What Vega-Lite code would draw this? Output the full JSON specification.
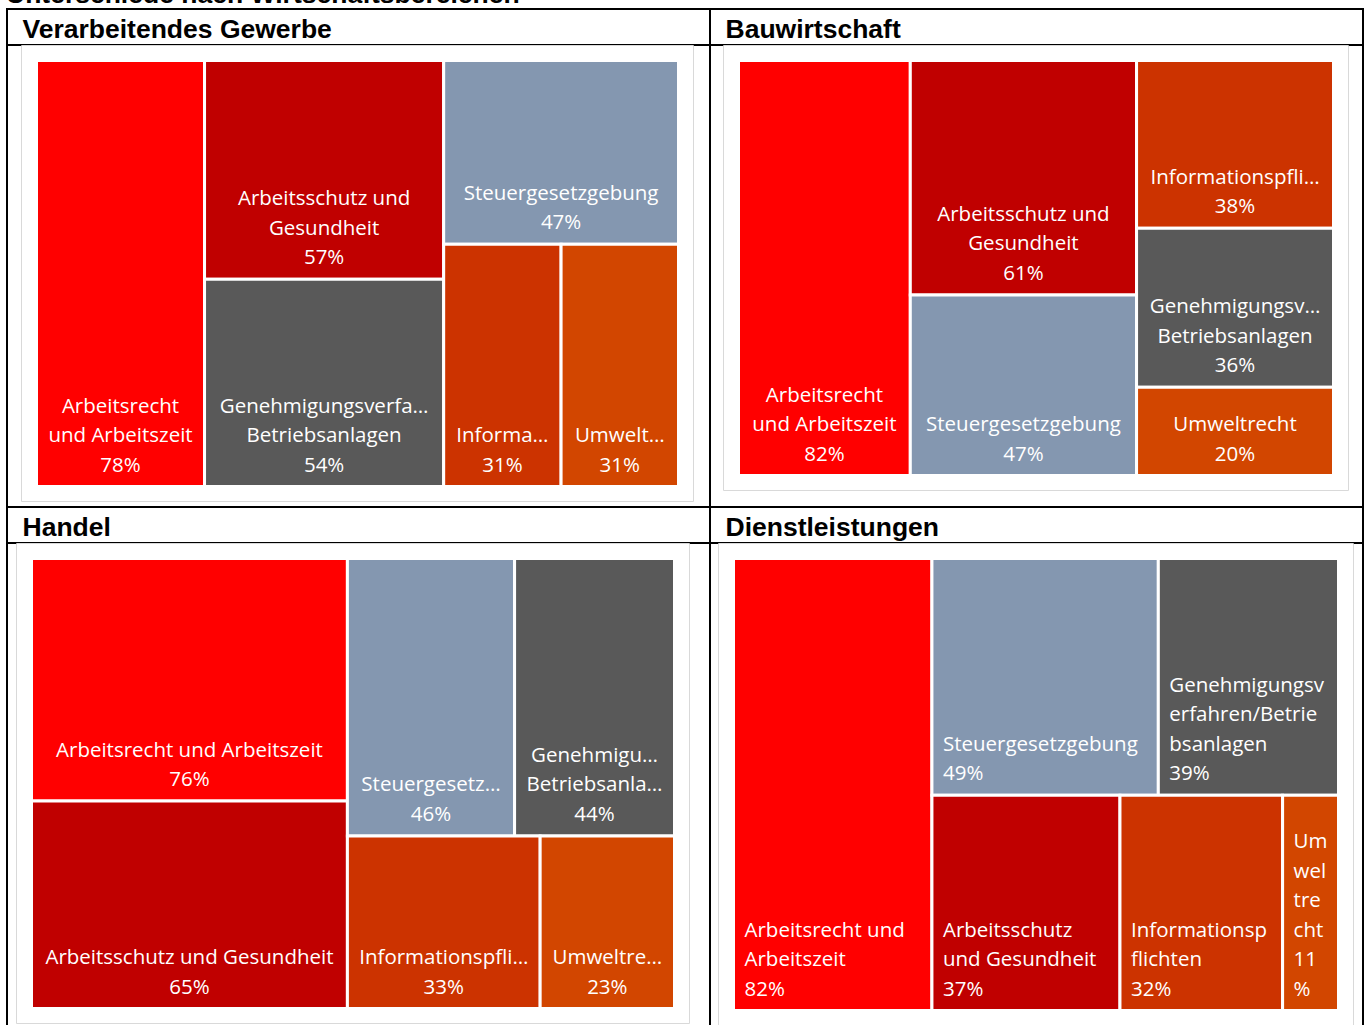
{
  "$schema": "https://vega.github.io/schema/vega-lite/v6.json",
  "background": "white",
  "padding": {"left": 6, "top": -19, "right": 0, "bottom": -5},
  "title": {"text": "Unterschiede nach Wirtschaftsbereichen", "anchor": "start", "font": "Liberation Sans", "fontSize": 26.5, "fontWeight": "bold", "color": "black", "baseline": "alphabetic", "offset": -21},
  "data": {"values": [
    {"panel": "Verarbeitendes Gewerbe", "category": "Arbeitsrecht und Arbeitszeit", "value": 78, "col": 1, "row": 1, "text": "Arbeitsrecht\nund Arbeitszeit\n78%"},
    {"panel": "Verarbeitendes Gewerbe", "category": "Arbeitsschutz und Gesundheit", "value": 57, "col": 2, "row": 1, "text": "Arbeitsschutz und\nGesundheit\n57%"},
    {"panel": "Verarbeitendes Gewerbe", "category": "Genehmigungsverfahren/Betriebsanlagen", "value": 54, "col": 2, "row": 2, "text": "Genehmigungsverfa…\nBetriebsanlagen\n54%"},
    {"panel": "Verarbeitendes Gewerbe", "category": "Steuergesetzgebung", "value": 47, "col": 3, "row": 1, "text": "Steuergesetzgebung\n47%"},
    {"panel": "Verarbeitendes Gewerbe", "category": "Informationspflichten", "value": 31, "col": 3, "row": 2, "text": "Informa…\n31%"},
    {"panel": "Verarbeitendes Gewerbe", "category": "Umweltrecht", "value": 31, "col": 3, "row": 2, "text": "Umwelt…\n31%"},
    {"panel": "Bauwirtschaft", "category": "Arbeitsrecht und Arbeitszeit", "value": 82, "col": 1, "row": 1, "text": "Arbeitsrecht\nund Arbeitszeit\n82%"},
    {"panel": "Bauwirtschaft", "category": "Arbeitsschutz und Gesundheit", "value": 61, "col": 2, "row": 1, "text": "Arbeitsschutz und\nGesundheit\n61%"},
    {"panel": "Bauwirtschaft", "category": "Steuergesetzgebung", "value": 47, "col": 2, "row": 2, "text": "Steuergesetzgebung\n47%"},
    {"panel": "Bauwirtschaft", "category": "Informationspflichten", "value": 38, "col": 3, "row": 1, "text": "Informationspfli…\n38%"},
    {"panel": "Bauwirtschaft", "category": "Genehmigungsverfahren/Betriebsanlagen", "value": 36, "col": 3, "row": 2, "text": "Genehmigungsv…\nBetriebsanlagen\n36%"},
    {"panel": "Bauwirtschaft", "category": "Umweltrecht", "value": 20, "col": 3, "row": 3, "text": "Umweltrecht\n20%"},
    {"panel": "Handel", "category": "Arbeitsrecht und Arbeitszeit", "value": 76, "col": 1, "row": 1, "text": "Arbeitsrecht und Arbeitszeit\n76%"},
    {"panel": "Handel", "category": "Arbeitsschutz und Gesundheit", "value": 65, "col": 1, "row": 2, "text": "Arbeitsschutz und Gesundheit\n65%"},
    {"panel": "Handel", "category": "Steuergesetzgebung", "value": 46, "col": 2, "row": 1, "text": "Steuergesetz…\n46%"},
    {"panel": "Handel", "category": "Genehmigungsverfahren/Betriebsanlagen", "value": 44, "col": 2, "row": 1, "text": "Genehmigu…\nBetriebsanla…\n44%"},
    {"panel": "Handel", "category": "Informationspflichten", "value": 33, "col": 2, "row": 2, "text": "Informationspfli…\n33%"},
    {"panel": "Handel", "category": "Umweltrecht", "value": 23, "col": 2, "row": 2, "text": "Umweltre…\n23%"},
    {"panel": "Dienstleistungen", "category": "Arbeitsrecht und Arbeitszeit", "value": 82, "col": 1, "row": 1, "text": "Arbeitsrecht und\nArbeitszeit\n82%"},
    {"panel": "Dienstleistungen", "category": "Steuergesetzgebung", "value": 49, "col": 2, "row": 1, "text": "Steuergesetzgebung\n49%"},
    {"panel": "Dienstleistungen", "category": "Genehmigungsverfahren/Betriebsanlagen", "value": 39, "col": 2, "row": 1, "text": "Genehmigungsv\nerfahren/Betrie\nbsanlagen\n39%"},
    {"panel": "Dienstleistungen", "category": "Arbeitsschutz und Gesundheit", "value": 37, "col": 2, "row": 2, "text": "Arbeitsschutz\nund Gesundheit\n37%"},
    {"panel": "Dienstleistungen", "category": "Informationspflichten", "value": 32, "col": 2, "row": 2, "text": "Informationsp\nflichten\n32%"},
    {"panel": "Dienstleistungen", "category": "Umweltrecht", "value": 11, "col": 2, "row": 2, "text": "Um\nwel\ntre\ncht\n11\n%"}
  ]},
  "transform": [
    {"joinaggregate": [{"op": "sum", "field": "value", "as": "total"}], "groupby": ["panel"]},
    {"joinaggregate": [{"op": "sum", "field": "value", "as": "colSum"}], "groupby": ["panel", "col"]},
    {"joinaggregate": [{"op": "sum", "field": "value", "as": "rowSum"}], "groupby": ["panel", "col", "row"]},
    {"stack": "value", "groupby": ["panel"], "sort": [{"field": "col", "order": "ascending"}, {"field": "row", "order": "ascending"}, {"field": "value", "order": "descending"}], "as": ["p0", "p1"]},
    {"joinaggregate": [{"op": "min", "field": "p0", "as": "colStart"}], "groupby": ["panel", "col"]},
    {"stack": "value", "groupby": ["panel", "col"], "sort": [{"field": "row", "order": "ascending"}, {"field": "value", "order": "descending"}], "as": ["q0", "q1"]},
    {"joinaggregate": [{"op": "min", "field": "q0", "as": "rowStart"}], "groupby": ["panel", "col", "row"]},
    {"stack": "value", "groupby": ["panel", "col", "row"], "sort": [{"field": "value", "order": "descending"}], "as": ["c0", "c1"]},
    {"calculate": "(datum.colStart + datum.colSum * datum.c0 / datum.rowSum) / datum.total", "as": "x0"},
    {"calculate": "(datum.colStart + datum.colSum * datum.c1 / datum.rowSum) / datum.total", "as": "x1"},
    {"calculate": "(datum.x0 + datum.x1) / 2", "as": "xc"},
    {"calculate": "datum.rowStart / datum.colSum", "as": "y0"},
    {"calculate": "(datum.rowStart + datum.rowSum) / datum.colSum", "as": "y1"},
    {"calculate": "join(reverse(split(datum.text, '\\n')), '\\n')", "as": "textUp"}
  ],
  "columns": 2,
  "spacing": 0,
  "bounds": "flush",
  "align": "each",
  "concat": [
    {
      "width": 703, "height": 498,
      "transform": [{"filter": {"field": "panel", "equal": "Verarbeitendes Gewerbe"}}],
      "layer": [
        {"data": {"values": [{}]},
         "mark": {"type": "rect", "filled": false, "stroke": "#D9D9D9", "strokeWidth": 1, "xOffset": -15, "x2Offset": 15, "yOffset": -15, "y2Offset": 15},
         "encoding": {"x": {"datum": 0, "type": "quantitative"}, "x2": {"datum": 1}, "y": {"datum": 0, "type": "quantitative", "axis": null}, "y2": {"datum": 1}}},
        {"mark": {"type": "rect", "stroke": "white", "strokeWidth": 3},
         "encoding": {
           "x": {"field": "x0", "type": "quantitative", "scale": {"domain": [-0.04595, 1.049065], "nice": false, "zero": false}, "axis": {"orient": "top", "offset": -35.5, "title": "Verarbeitendes Gewerbe", "titleX": 15, "titleY": -7.5}},
           "x2": {"field": "x1"},
           "y": {"field": "y0", "type": "quantitative", "scale": {"domain": [0, 1], "range": [51.5, 477.5], "nice": false, "zero": false}, "axis": null},
           "y2": {"field": "y1"},
           "color": {"field": "category", "type": "nominal", "legend": null, "scale": {"domain": ["Arbeitsrecht und Arbeitszeit", "Arbeitsschutz und Gesundheit", "Steuergesetzgebung", "Genehmigungsverfahren/Betriebsanlagen", "Informationspflichten", "Umweltrecht"], "range": ["#FF0000", "#C00000", "#8497B0", "#595959", "#CC3300", "#D24600"]}}
         }},
        {"mark": {"type": "text", "align": "center", "baseline": "bottom", "dy": -11, "font": "Open Sans", "fontSize": 20.5, "lineHeight": -29.5, "lineBreak": "\n", "color": "white"},
         "encoding": {"x": {"field": "xc", "type": "quantitative"}, "y": {"field": "y1", "type": "quantitative", "axis": null}, "text": {"field": "textUp"}}}
      ]
    },
    {
      "width": 653, "height": 498,
      "transform": [{"filter": {"field": "panel", "equal": "Bauwirtschaft"}}],
      "layer": [
        {"data": {"values": [{}]},
         "mark": {"type": "rect", "filled": false, "stroke": "#D9D9D9", "strokeWidth": 1, "xOffset": -15, "x2Offset": 15, "yOffset": -15, "y2Offset": 15},
         "encoding": {"x": {"datum": 0, "type": "quantitative"}, "x2": {"datum": 1}, "y": {"datum": 0, "type": "quantitative", "axis": null}, "y2": {"datum": 1}}},
        {"mark": {"type": "rect", "stroke": "white", "strokeWidth": 3},
         "encoding": {
           "x": {"field": "x0", "type": "quantitative", "scale": {"domain": [-0.047899, 1.04958], "nice": false, "zero": false}, "axis": {"orient": "top", "offset": -35.5, "title": "Bauwirtschaft", "titleX": 15, "titleY": -7.5}},
           "x2": {"field": "x1"},
           "y": {"field": "y0", "type": "quantitative", "scale": {"domain": [0, 1], "range": [51.5, 466.5], "nice": false, "zero": false}, "axis": null},
           "y2": {"field": "y1"},
           "color": {"field": "category", "type": "nominal", "legend": null, "scale": {"domain": ["Arbeitsrecht und Arbeitszeit", "Arbeitsschutz und Gesundheit", "Steuergesetzgebung", "Genehmigungsverfahren/Betriebsanlagen", "Informationspflichten", "Umweltrecht"], "range": ["#FF0000", "#C00000", "#8497B0", "#595959", "#CC3300", "#D24600"]}}
         }},
        {"mark": {"type": "text", "align": "center", "baseline": "bottom", "dy": -11, "font": "Open Sans", "fontSize": 20.5, "lineHeight": -29.5, "lineBreak": "\n", "color": "white"},
         "encoding": {"x": {"field": "xc", "type": "quantitative"}, "y": {"field": "y1", "type": "quantitative", "axis": null}, "text": {"field": "textUp"}}}
      ]
    },
    {
      "width": 703, "height": 522,
      "transform": [{"filter": {"field": "panel", "equal": "Handel"}}],
      "layer": [
        {"data": {"values": [{}]},
         "mark": {"type": "rect", "filled": false, "stroke": "#D9D9D9", "strokeWidth": 1, "xOffset": -15, "x2Offset": 15, "yOffset": -15, "y2Offset": 15},
         "encoding": {"x": {"datum": 0, "type": "quantitative"}, "x2": {"datum": 1}, "y": {"datum": 0, "type": "quantitative", "axis": null}, "y2": {"datum": 1}}},
        {"mark": {"type": "rect", "stroke": "white", "strokeWidth": 3},
         "encoding": {
           "x": {"field": "x0", "type": "quantitative", "scale": {"domain": [-0.038103, 1.05521], "nice": false, "zero": false}, "axis": {"orient": "top", "offset": -35.5, "title": "Handel", "titleX": 15, "titleY": -7.5}},
           "x2": {"field": "x1"},
           "y": {"field": "y0", "type": "quantitative", "scale": {"domain": [0, 1], "range": [51.5, 501.5], "nice": false, "zero": false}, "axis": null},
           "y2": {"field": "y1"},
           "color": {"field": "category", "type": "nominal", "legend": null, "scale": {"domain": ["Arbeitsrecht und Arbeitszeit", "Arbeitsschutz und Gesundheit", "Steuergesetzgebung", "Genehmigungsverfahren/Betriebsanlagen", "Informationspflichten", "Umweltrecht"], "range": ["#FF0000", "#C00000", "#8497B0", "#595959", "#CC3300", "#D24600"]}}
         }},
        {"mark": {"type": "text", "align": "center", "baseline": "bottom", "dy": -11, "font": "Open Sans", "fontSize": 20.5, "lineHeight": -29.5, "lineBreak": "\n", "color": "white"},
         "encoding": {"x": {"field": "xc", "type": "quantitative"}, "y": {"field": "y1", "type": "quantitative", "axis": null}, "text": {"field": "textUp"}}}
      ]
    },
    {
      "width": 653, "height": 522,
      "transform": [{"filter": {"field": "panel", "equal": "Dienstleistungen"}}],
      "layer": [
        {"data": {"values": [{}]},
         "mark": {"type": "rect", "filled": false, "stroke": "#D9D9D9", "strokeWidth": 1, "xOffset": -15, "x2Offset": 15, "yOffset": -15, "y2Offset": 15},
         "encoding": {"x": {"datum": 0, "type": "quantitative"}, "x2": {"datum": 1}, "y": {"datum": 0, "type": "quantitative", "axis": null}, "y2": {"datum": 1}}},
        {"mark": {"type": "rect", "stroke": "white", "strokeWidth": 3},
         "encoding": {
           "x": {"field": "x0", "type": "quantitative", "scale": {"domain": [-0.038843, 1.040496], "nice": false, "zero": false}, "axis": {"orient": "top", "offset": -35.5, "title": "Dienstleistungen", "titleX": 15, "titleY": -7.5}},
           "x2": {"field": "x1"},
           "y": {"field": "y0", "type": "quantitative", "scale": {"domain": [0, 1], "range": [51.5, 503.5], "nice": false, "zero": false}, "axis": null},
           "y2": {"field": "y1"},
           "color": {"field": "category", "type": "nominal", "legend": null, "scale": {"domain": ["Arbeitsrecht und Arbeitszeit", "Arbeitsschutz und Gesundheit", "Steuergesetzgebung", "Genehmigungsverfahren/Betriebsanlagen", "Informationspflichten", "Umweltrecht"], "range": ["#FF0000", "#C00000", "#8497B0", "#595959", "#CC3300", "#D24600"]}}
         }},
        {"mark": {"type": "text", "align": "left", "baseline": "bottom", "dx": 11, "dy": -11, "font": "Open Sans", "fontSize": 20.5, "lineHeight": -29.5, "lineBreak": "\n", "color": "white"},
         "encoding": {"x": {"field": "x0", "type": "quantitative"}, "y": {"field": "y1", "type": "quantitative", "axis": null}, "text": {"field": "textUp"}}}
      ]
    }
  ],
  "config": {
    "view": {"stroke": "black", "strokeWidth": 2},
    "axis": {"labels": false, "ticks": false, "grid": false, "domain": true, "domainColor": "black", "domainWidth": 2, "titleFont": "Liberation Sans", "titleFontSize": 26.5, "titleFontWeight": "bold", "titleColor": "black", "titleAlign": "left", "titleBaseline": "alphabetic", "titleAnchor": "start"}
  }
}
